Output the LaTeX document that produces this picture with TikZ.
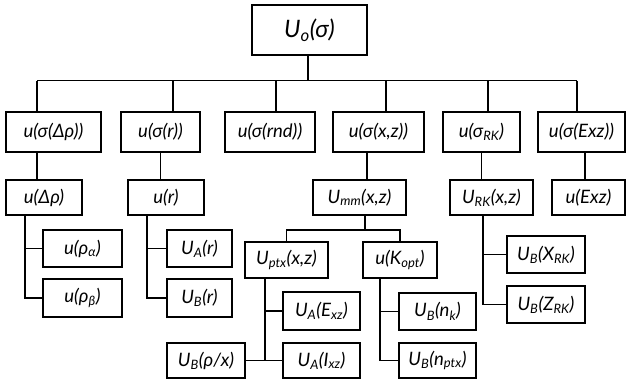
\documentclass[tikz,border=0pt]{standalone}
\usepackage{fontspec}
\setmainfont{Lato}
\newcommand\sbt[1]{\textsubscript{#1}}
\begin{document}
\begin{tikzpicture}[x=1pt,y=-1pt,
  box/.style={draw, line width=1.7pt, inner sep=0pt, align=center,
    font=\fontsize{18.5}{21}\selectfont\itshape},
  topbox/.style={box, font=\fontsize{24}{27}\selectfont\itshape},
  wire/.style={line width=1.7pt}]
\useasboundingbox (0,0) rectangle (627,380);

% root
\node[topbox, minimum width=115, minimum height=50] (top) at (309.5,30) {U\sbt{o}(σ)};

% first level
\node[box, minimum width=95, minimum height=40] (a1) at (53.5,132) {u(σ(Δρ))};
\node[box, minimum width=79, minimum height=40] (a2) at (160.5,132) {u(σ(r))};
\node[box, minimum width=90, minimum height=40] (a3) at (270,132) {u(σ(rnd))};
\node[box, minimum width=91, minimum height=40] (a4) at (378.5,132) {u(σ(x,z))};
\node[box, minimum width=77, minimum height=40] (a5) at (481.5,132) {u(σ\sbt{RK})};
\node[box, minimum width=87, minimum height=40] (a6) at (581.5,132) {u(σ(Exz))};

% second level
\node[box, minimum width=76, minimum height=35] (b1) at (44,197.5) {u(Δρ)};
\node[box, minimum width=76, minimum height=35] (b2) at (166,197.5) {u(r)};
\node[box, minimum width=93, minimum height=35] (b4) at (359.5,197.5) {U\sbt{mm}(x,z)};
\node[box, minimum width=83, minimum height=35] (b5) at (491.5,197.5) {U\sbt{RK}(x,z)};
\node[box, minimum width=73, minimum height=35] (b6) at (588.5,197.5) {u(Exz)};

% leaves under u(Δρ) and u(r)
\node[box, minimum width=79, minimum height=37] (c1) at (82.5,248.5) {u(ρ\sbt{α})};
\node[box, minimum width=79, minimum height=38] (c2) at (82.5,298) {u(ρ\sbt{β})};
\node[box, minimum width=65, minimum height=37] (c3) at (199.5,248.5) {U\sbt{A}(r)};
\node[box, minimum width=65, minimum height=38] (c4) at (199.5,298) {U\sbt{B}(r)};

% branches of U_mm(x,z)
\node[box, minimum width=83, minimum height=36] (d1) at (286.5,260) {U\sbt{ptx}(x,z)};
\node[box, minimum width=74, minimum height=36] (d2) at (400,260) {u(K\sbt{opt})};
\node[box, minimum width=77, minimum height=38] (e1) at (321.5,311) {U\sbt{A}(E\sbt{xz})};
\node[box, minimum width=77, minimum height=35] (e2) at (321.5,360.5) {U\sbt{A}(I\sbt{xz})};
\node[box, minimum width=78, minimum height=35] (e3) at (206,360.5) {U\sbt{B}(ρ/x)};
\node[box, minimum width=77, minimum height=37] (f1) at (437.5,311.5) {U\sbt{B}(n\sbt{k})};
\node[box, minimum width=77, minimum height=35] (f2) at (437.5,360.5) {U\sbt{B}(n\sbt{ptx})};

% leaves under U_RK(x,z)
\node[box, minimum width=78, minimum height=37] (g1) at (546,254.5) {U\sbt{B}(X\sbt{RK})};
\node[box, minimum width=78, minimum height=37] (g2) at (546,304.5) {U\sbt{B}(Z\sbt{RK})};

% bus and drop points
\coordinate (busL) at (37,80.5);
\coordinate (j2) at (173,80.5);
\coordinate (j3) at (276,80.5);
\coordinate (j4) at (386,80.5);
\coordinate (j5) at (488,80.5);
\coordinate (busR) at (577,80.5);
\draw[wire] (busL) -- (busR);
\draw[wire] (top.south -| 308,0) -- (busL -| 308,0);
\foreach \j/\n in {busL/a1, j2/a2, j3/a3, j4/a4, j5/a5, busR/a6}
  \draw[wire] (\j) -- (\j |- \n.north);

% first to second level
\coordinate (k1) at (37,0);
\coordinate (k4) at (367,0);
\coordinate (k6) at (585,0);
\draw[wire] (k1 |- a1.south) -- (k1 |- b1.north);
\draw[wire] (a2.south) -- (a2.south |- b2.north);
\draw[wire] (k4 |- a4.south) -- (k4 |- b4.north);
\draw[wire] (a5.south) -- (a5.south |- b5.north);
\draw[wire] (k6 |- a6.south) -- (k6 |- b6.north);

% spines with side branches
\coordinate (s1) at (25,0);
\coordinate (s2) at (147,0);
\coordinate (s3) at (265,0);
\coordinate (s4) at (380,0);
\coordinate (s5) at (483,0);
\draw[wire] (s1 |- b1.south) -- (s1 |- c2.west) -- (c2.west);
\draw[wire] (s1 |- c1.west) -- (c1.west);
\draw[wire] (s2 |- b2.south) -- (s2 |- c4.west) -- (c4.west);
\draw[wire] (s2 |- c3.west) -- (c3.west);
\draw[wire] (s3 |- d1.south) -- (s3 |- e2.west);
\draw[wire] (s3 |- e1.west) -- (e1.west);
\draw[wire] (e3.east) -- (e2.west);
\draw[wire] (s4 |- d2.south) -- (s4 |- f2.west) -- (f2.west);
\draw[wire] (s4 |- f1.west) -- (f1.west);
\draw[wire] (s5 |- b5.south) -- (s5 |- g2.west) -- (g2.west);
\draw[wire] (s5 |- g1.west) -- (g1.west);

% fork below U_mm(x,z)
\coordinate (fk) at (365,230);
\draw[wire] (b4.south -| fk) -- (fk);
\draw[wire] (d1.north) |- (fk) -| (d2.north);
\end{tikzpicture}
\end{document}
